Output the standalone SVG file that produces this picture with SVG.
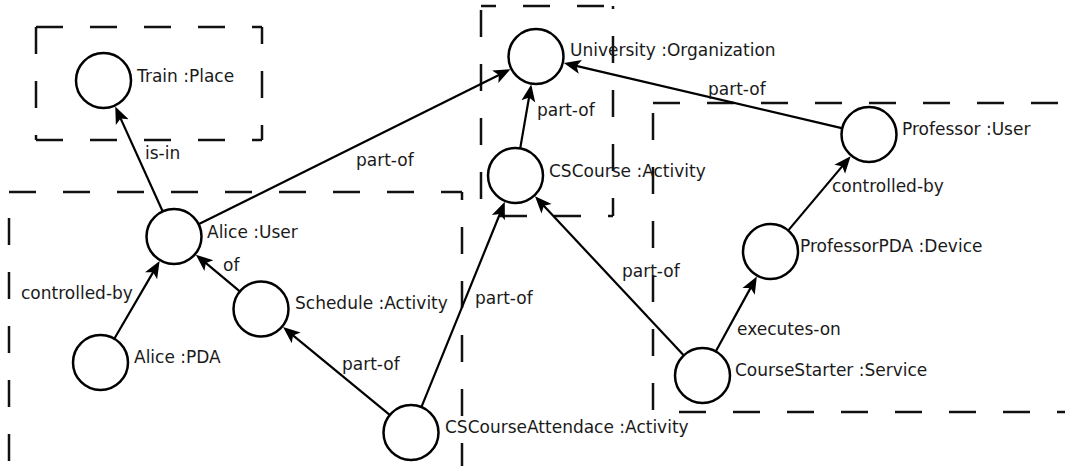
<svg xmlns="http://www.w3.org/2000/svg" width="1065" height="466" viewBox="0 0 1065 466">
<style>
.box{fill:none;stroke:#111;stroke-width:2.5;stroke-dasharray:27 27}
.node circle{fill:#fff;stroke:#000;stroke-width:2.5}
.lbl{font-family:"DejaVu Sans",sans-serif;font-size:17px;fill:#1a1a1a}
.edge{stroke:#000;stroke-width:2.2;fill:none;marker-end:url(#arr)}
</style>
<defs>
<marker id="arr" markerUnits="userSpaceOnUse" markerWidth="20" markerHeight="16" viewBox="0 0 20 16" refX="12" refY="8" orient="auto">
<path d="M17,8 L0,1 L4,8 L0,15 Z" fill="#000"/>
</marker>
</defs>
<rect width="1065" height="466" fill="#fff"/>
<g id="boxes">
<path class="box" d="M36,27 H262"/>
<path class="box" d="M36,140 H262"/>
<path class="box" d="M36,27 V140"/>
<path class="box" d="M262,27 V140" stroke-dashoffset="10"/>
<path class="box" d="M481,6 H613" stroke-dashoffset="12"/>
<path class="box" d="M481,6 V216" stroke-dashoffset="50"/>
<path class="box" d="M613,6 V216" stroke-dashoffset="24"/>
<path class="box" d="M481,216 H613" stroke-dashoffset="35"/>
<path class="box" d="M9,192 H462"/>
<path class="box" d="M9,192 V480" stroke-dashoffset="28"/>
<path class="box" d="M462,192 V480" stroke-dashoffset="19"/>
<path class="box" d="M653,103 H1080"/>
<path class="box" d="M653,103 V412" stroke-dashoffset="44"/>
<path class="box" d="M653,412 H1080" stroke-dashoffset="28"/>
</g>
<g id="connectors">
<line class="edge" x1="162.5" y1="211" x2="117.3" y2="111.1"/>
<line class="edge" x1="199" y1="224" x2="506" y2="71.4"/>
<line class="edge" x1="520.3" y1="147.9" x2="530.4" y2="89.5"/>
<line class="edge" x1="841.7" y1="128.1" x2="568.7" y2="64.1"/>
<line class="edge" x1="788.5" y1="230.1" x2="847.4" y2="160.1"/>
<line class="edge" x1="716" y1="351" x2="754.4" y2="280.9"/>
<line class="edge" x1="683.4" y1="355.1" x2="538.4" y2="200"/>
<line class="edge" x1="421.6" y1="406.6" x2="502.9" y2="206.5"/>
<line class="edge" x1="389.4" y1="414.7" x2="286.9" y2="330.3"/>
<line class="edge" x1="239.5" y1="291.1" x2="199.7" y2="257.9"/>
<line class="edge" x1="114.6" y1="338.3" x2="157.1" y2="265.4"/>
<text class="lbl" x="145" y="159">is-in</text>
<text class="lbl" x="356" y="166">part-of</text>
<text class="lbl" x="537" y="116">part-of</text>
<text class="lbl" x="708" y="95">part-of</text>
<text class="lbl" x="832" y="192">controlled-by</text>
<text class="lbl" x="737" y="335">executes-on</text>
<text class="lbl" x="21" y="299">controlled-by</text>
<text class="lbl" x="223" y="271">of</text>
<text class="lbl" x="342" y="370">part-of</text>
<text class="lbl" x="475" y="304">part-of</text>
<text class="lbl" x="622" y="277">part-of</text>
</g>
<g id="train" class="node"><circle cx="103.5" cy="80.5" r="27.5"/><text class="lbl" x="137" y="82">Train :Place</text></g>
<g id="university" class="node"><circle cx="536" cy="56.5" r="27.5"/><text class="lbl" x="570" y="56">University :Organization</text></g>
<g id="cscourse" class="node"><circle cx="515.5" cy="175.5" r="27.5"/><text class="lbl" x="549" y="177">CSCourse :Activity</text></g>
<g id="professor" class="node"><circle cx="869" cy="134.5" r="27.5"/><text class="lbl" x="902" y="135">Professor :User</text></g>
<g id="professorpda" class="node"><circle cx="770.5" cy="251.5" r="27.5"/><text class="lbl" x="800" y="252">ProfessorPDA :Device</text></g>
<g id="coursestarter" class="node"><circle cx="702.5" cy="375.5" r="27.5"/><text class="lbl" x="735" y="376">CourseStarter :Service</text></g>
<g id="aliceuser" class="node"><circle cx="174" cy="236.5" r="27.5"/><text class="lbl" x="207" y="238">Alice :User</text></g>
<g id="schedule" class="node"><circle cx="261" cy="309" r="27.5"/><text class="lbl" x="295" y="309">Schedule :Activity</text></g>
<g id="alicepda" class="node"><circle cx="100.5" cy="362.5" r="27.5"/><text class="lbl" x="134" y="363">Alice :PDA</text></g>
<g id="csattend" class="node"><circle cx="411" cy="432.5" r="27.5"/><text class="lbl" x="445" y="433">CSCourseAttendace :Activity</text></g>
</svg>
